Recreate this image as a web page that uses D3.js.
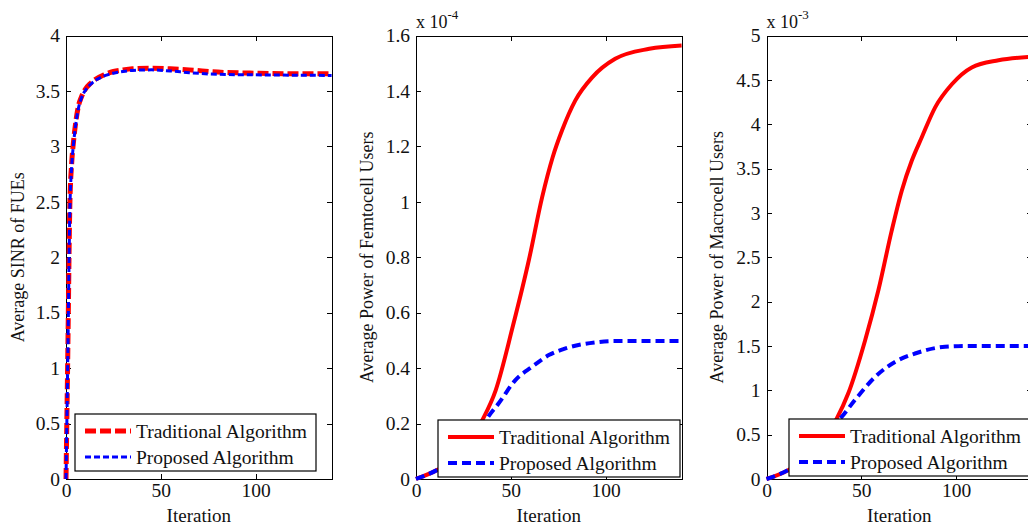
<!DOCTYPE html>
<html>
<head>
<meta charset="utf-8">
<script src="https://d3js.org/d3.v7.min.js"></script>
<style>
body { margin: 0; background: #fff; }
svg text { font-family: "Liberation Serif", "Times New Roman", serif !important; fill: #111; }
.axis path, .axis line { fill: none; stroke: #000; shape-rendering: crispEdges; }
</style>
</head>
<body>
<script>
// ---- data ----
// panel 1: average SINR of FUEs
var sinrIter = [0, 1, 2, 3, 4, 5, 6.5, 8, 10, 13, 16, 20, 25, 30, 35, 45, 55, 65, 80, 100, 120, 140];
var sinrTrad = [0, 1.2, 2.45, 2.85, 3.05, 3.2, 3.36, 3.44, 3.51, 3.57, 3.61, 3.645, 3.675, 3.69, 3.7, 3.705, 3.7, 3.69, 3.67, 3.66, 3.655, 3.655];
var sinrProp = [0, 1.15, 2.4, 2.82, 3.03, 3.18, 3.34, 3.43, 3.5, 3.56, 3.6, 3.635, 3.66, 3.675, 3.685, 3.69, 3.68, 3.665, 3.65, 3.645, 3.642, 3.64];

// panel 2: average power of femtocell users (x 1e-4)
var femIterTrad = [0, 11, 20, 28, 35, 42, 51, 59.5, 66.5, 72, 77, 84, 93, 105, 123, 140];
var femTrad = [0, 0.032, 0.07, 0.13, 0.213, 0.32, 0.55, 0.79, 1.017, 1.16, 1.258, 1.366, 1.45, 1.516, 1.552, 1.564];
var femIterProp = [0, 11, 20, 28, 35, 38, 43.6, 52.4, 61.2, 70, 78.8, 94.7, 105, 120, 140];
var femProp = [0, 0.032, 0.07, 0.13, 0.19, 0.224, 0.273, 0.357, 0.405, 0.447, 0.471, 0.493, 0.498, 0.498, 0.498];

// panel 3: average power of macrocell users (x 1e-3)
var macIterTrad = [0, 11.4, 20, 28, 37, 43, 52, 59, 66, 71.3, 76.6, 81.8, 88.9, 97.7, 108.2, 122.3, 140];
var macTrad = [0, 0.1, 0.22, 0.4, 0.68, 0.96, 1.565, 2.13, 2.8, 3.25, 3.59, 3.85, 4.19, 4.45, 4.64, 4.72, 4.76];
var macIterProp = [0, 11.4, 20, 28, 35, 39.6, 46.6, 57.2, 67.7, 78.3, 94.1, 108, 140];
var macProp = [0, 0.1, 0.22, 0.4, 0.6, 0.7, 0.89, 1.15, 1.32, 1.415, 1.49, 1.5, 1.5];

var xTicks = [0, 50, 100];
var sinrTicks = [0, 0.5, 1, 1.5, 2, 2.5, 3, 3.5, 4];
var femTicks = [0, 0.2, 0.4, 0.6, 0.8, 1, 1.2, 1.4, 1.6];
var macTicks = [0, 0.5, 1, 1.5, 2, 2.5, 3, 3.5, 4, 4.5, 5];

var seriesNames = ["Traditional Algorithm", "Proposed Algorithm"];

var W = 1028, H = 528;
var top_ = 35.5, bottom = 479;

var svg = d3.select("body").append("svg")
    .attr("width", W).attr("height", H);

function panel(opt) {
  var x = d3.scaleLinear().domain([0, 140]).range([opt.left, opt.left + 265.6]);
  var y = d3.scaleLinear().domain([0, opt.ymax]).range([bottom, top_]);
  var g = svg.append("g");
  var fmt = d3.format("~g");

  g.append("g").attr("class", "axis")
    .attr("transform", "translate(0," + bottom + ")")
    .call(d3.axisBottom(x).tickValues(xTicks).tickSizeInner(-5).tickSizeOuter(0).tickPadding(4).tickFormat(fmt));
  g.append("g").attr("class", "axis")
    .attr("transform", "translate(0," + top_ + ")")
    .call(d3.axisTop(x).tickValues(xTicks).tickSizeInner(-5).tickSizeOuter(0).tickFormat(""));
  g.append("g").attr("class", "axis")
    .attr("transform", "translate(" + opt.left + ",0)")
    .call(d3.axisLeft(y).tickValues(opt.ticks).tickSizeInner(-5).tickSizeOuter(0).tickPadding(6).tickFormat(fmt));
  g.append("g").attr("class", "axis")
    .attr("transform", "translate(" + x(140) + ",0)")
    .call(d3.axisRight(y).tickValues(opt.ticks).tickSizeInner(-5).tickSizeOuter(0).tickFormat(""));
  g.selectAll(".axis").attr("font-family", null).attr("font-size", null);
  g.selectAll(".axis text").style("font-size", "19.5px");

  var line = d3.line().curve(d3.curveMonotoneX)
    .x(function(d) { return x(d[0]); })
    .y(function(d) { return y(d[1]); });

  opt.series.forEach(function(s) {
    g.append("path")
      .datum(d3.zip(s.xs, s.ys))
      .attr("d", line)
      .attr("fill", "none")
      .attr("stroke", s.color)
      .attr("stroke-width", s.width)
      .attr("stroke-dasharray", s.dash || null);
  });

  // x label
  g.append("text")
    .attr("x", x(70)).attr("y", 522)
    .attr("text-anchor", "middle")
    .style("font-size", "19px")
    .text("Iteration");
  // y label
  g.append("text")
    .attr("transform", "translate(" + opt.ylabX + "," + ((top_ + bottom) / 2) + ") rotate(-90)")
    .attr("text-anchor", "middle")
    .attr("dy", "0.35em")
    .style("font-size", "18px")
    .text(opt.ylabel);
  // exponent
  if (opt.exp) {
    var t = g.append("text").attr("x", opt.left).attr("y", 28).style("font-size", "18px");
    t.append("tspan").text("x 10");
    t.append("tspan").attr("dy", -9).style("font-size", "13px").text(opt.exp);
  }

  // legend
  var lg = g.append("g").attr("transform", "translate(" + opt.legX + "," + opt.legY + ")");
  lg.append("rect").attr("width", opt.legW).attr("height", 57)
    .attr("fill", "#fff").attr("stroke", "#000").attr("stroke-width", 1.2);
  opt.series.forEach(function(s, i) {
    lg.append("line")
      .attr("x1", 10).attr("x2", 56)
      .attr("y1", 17 + i * 26).attr("y2", 17 + i * 26)
      .attr("stroke", s.color).attr("stroke-width", s.width)
      .attr("stroke-dasharray", s.dash || null);
    lg.append("text")
      .attr("x", 61).attr("y", 23.5 + i * 26)
      .style("font-size", "19.5px")
      .text(seriesNames[i]);
  });
}

panel({
  left: 66, ymax: 4, ticks: sinrTicks, ylabX: 18,
  ylabel: "Average SINR of FUEs",
  legX: 75, legY: 414, legW: 241,
  series: [
    { xs: sinrIter, ys: sinrTrad, color: "#ff0000", width: 5, dash: "11,4" },
    { xs: sinrIter, ys: sinrProp, color: "#0000ff", width: 3, dash: "6,3" }
  ]
});

panel({
  left: 416, ymax: 1.6, ticks: femTicks, ylabX: 367, exp: "-4",
  ylabel: "Average Power of Femtocell Users",
  legX: 438, legY: 420, legW: 242,
  series: [
    { xs: femIterTrad, ys: femTrad, color: "#ff0000", width: 4 },
    { xs: femIterProp, ys: femProp, color: "#0000ff", width: 4, dash: "9,5" }
  ]
});

panel({
  left: 766.5, ymax: 5, ticks: macTicks, ylabX: 717, exp: "-3",
  ylabel: "Average Power of Macrocell Users",
  legX: 789, legY: 419, legW: 250,
  series: [
    { xs: macIterTrad, ys: macTrad, color: "#ff0000", width: 4 },
    { xs: macIterProp, ys: macProp, color: "#0000ff", width: 4, dash: "9,5" }
  ]
});
</script>
</body>
</html>
